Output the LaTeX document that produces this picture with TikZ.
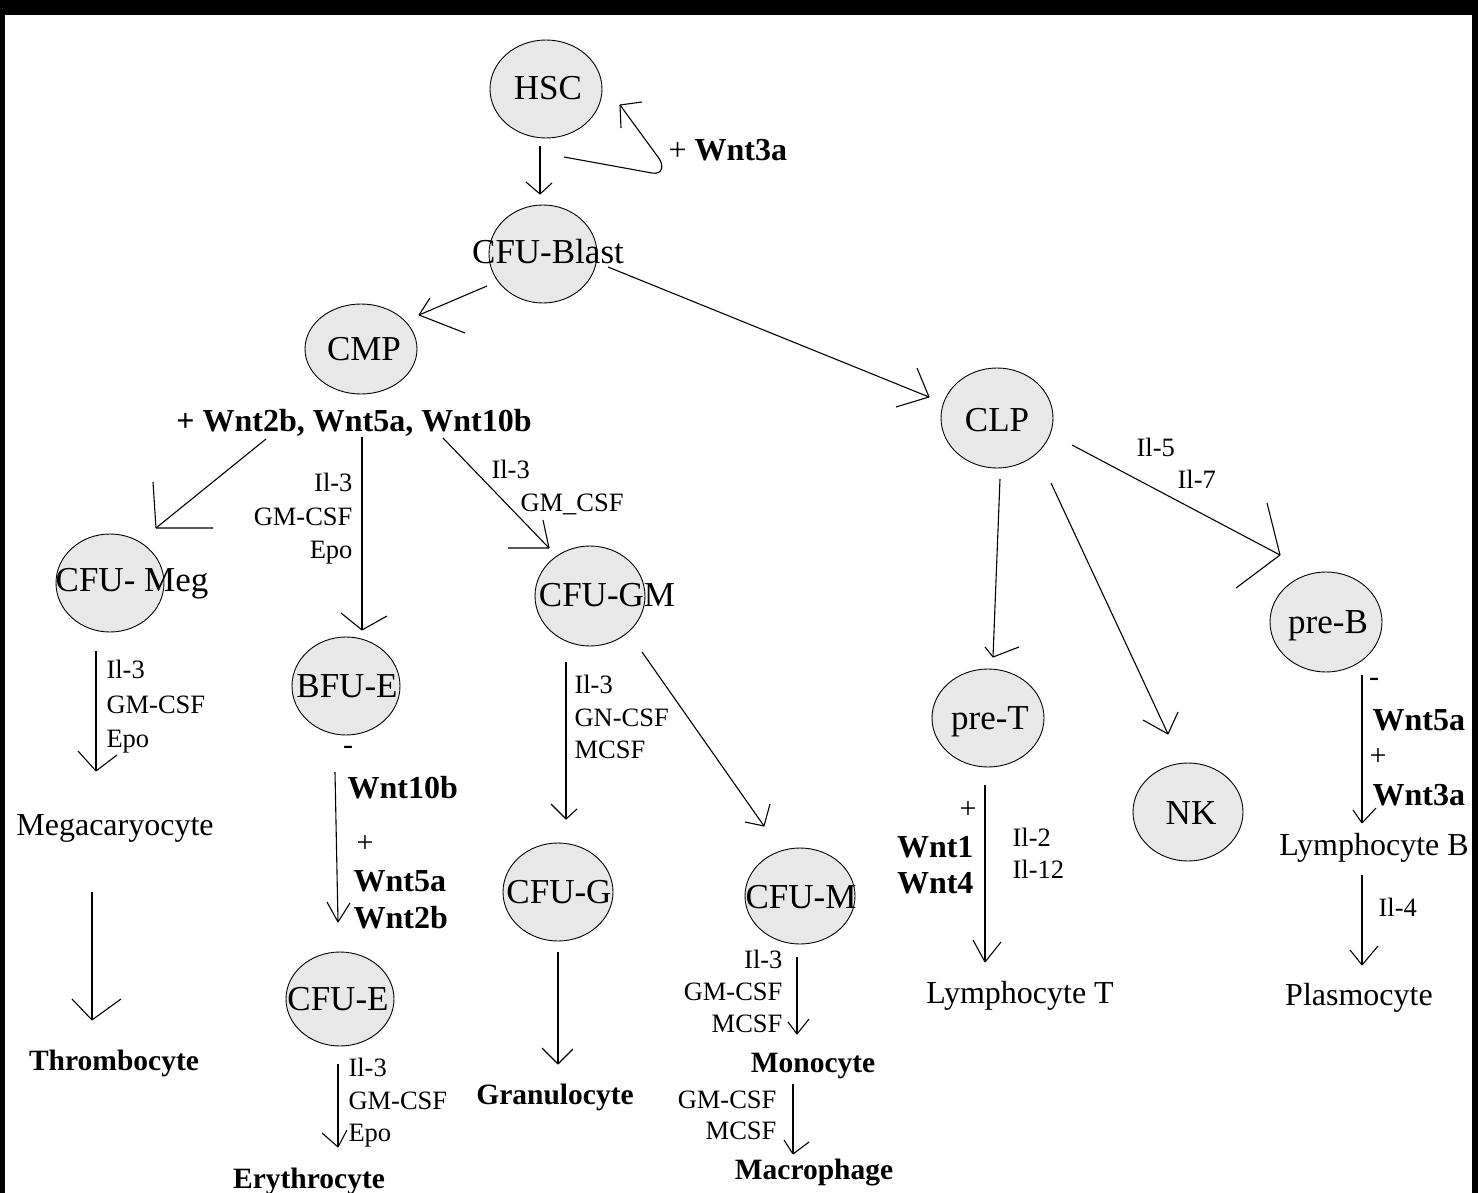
\documentclass[tikz,border=0pt]{standalone}
\usepackage{fontspec}
\setmainfont{Liberation Serif}
\usetikzlibrary{shapes.geometric}
\definecolor{cellgray}{RGB}{232,232,232}

% stack of growth factors: name, anchor, x, first y, line step, list
\newcommand{\factors}[6]{%
    \foreach \f [count=\i] in {#6}
        \node[factor, anchor=#2] (#1\i) at (#3, #4+#5*\i-#5) {\f};%
}

\begin{document}
\begin{tikzpicture}[x=1pt, y=-1pt, line width=1.1pt,
    cell/.style={ellipse, draw, line width=0.9pt, fill=cellgray, inner sep=0pt},
    celltext/.style={font=\fontsize{35}{40}\selectfont, text height=23pt, text depth=0pt, inner sep=0pt},
    endcell/.style={font=\fontsize{32}{38}\selectfont, text height=21pt, text depth=0pt, inner sep=0pt},
    endbold/.style={font=\bfseries\fontsize{29.5}{36}\selectfont, text height=19.5pt, text depth=0pt, inner sep=0pt},
    factor/.style={font=\fontsize{26.5}{30}\selectfont, text height=17.5pt, text depth=0pt, inner sep=0pt},
    wnt/.style={font=\bfseries\fontsize{32}{38}\selectfont, text height=21pt, text depth=0pt, inner sep=0pt},
    sign/.style={font=\fontsize{30}{36}\selectfont, inner sep=0pt}]

    \fill[white] (0,0) rectangle (1478,1193);
    \useasboundingbox (0,0) rectangle (1478,1193);

    % cells
    \foreach \n/\x/\y/\w/\h in {hsc/546/89/112/98, blast/543/254/108/98, cmp/361/349/112/90,
        clp/997/418/112/100, meg/110/583/108/98, bfue/346/686/108/98, cfugm/590/596/110/100,
        cfug/558/892/110/98, cfum/800/896/110/96, cfue/340/999/108/94,
        pret/988/718/112/98, nk/1188/812/110/98, preb/1326/622/112/100}
        \node[cell, minimum width=\w pt, minimum height=\h pt] (\n) at (\x,\y) {};

    \foreach \n/\x/\y/\t in {hsc/548/88/HSC, blast/548/252/CFU-Blast, cmp/364/349/CMP,
        clp/997/420/CLP, meg/132/580/CFU- Meg, bfue/347/686/BFU-E, cfugm/607/595/CFU-GM,
        cfug/559/892/CFU-G, cfum/801/897/CFU-M, cfue/338/999/CFU-E,
        pret/990/718/pre-T, nk/1191/813/NK, preb/1328/622/pre-B}
        \node[celltext] (\n-txt) at (\x,\y) {\t};

    % mature cells
    \node[endcell] (mgk) at (115,825) {Megacaryocyte};
    \node[endbold] (thr) at (114,1061) {Thrombocyte};
    \node[endbold] (ery) at (309,1179) {Erythrocyte};
    \node[endbold] (gra) at (555,1095) {Granulocyte};
    \node[endbold] (mono) at (813,1063) {Monocyte};
    \node[endbold] (mac) at (814,1170) {Macrophage};
    \node[endcell] (lymt) at (1020,993) {Lymphocyte T};
    \node[endcell] (lymb) at (1374,845) {Lymphocyte B};
    \node[endcell] (pla) at (1359,995) {Plasmocyte};

    % arrows: start, tip, two barbs
    \foreach \n/\sx/\sy/\tx/\ty/\l/\r in {
        hsc-blast/540/146/540/194/{-14,-12}/{12,-11},
        blast-cmp/487/286/419/315/{11,-17}/{46,18},
        blast-clp/608/267/929/397/{-12,-29}/{-33,10},
        cmp-meg/266/439/156/528/{-3,-46}/{57,0},
        cmp-bfue/362/437/362/630/{-21,-17}/{25,-14},
        cmp-cfugm/443/438/549/548/{-6,-28}/{-41,0},
        meg-mgk/96/651/96/771/{-18,-20}/{21,-16},
        mgk-thr/92/892/92/1020/{-20,-21}/{29,-21},
        bfue-cfue/335/772/338/922/{-11,-20}/{12,-19},
        cfue-ery/338/1064/338/1147/{-16,-14}/{9,-17},
        cfugm-cfug/566/662/566/819/{-15,-15}/{11,-10},
        cfugm-cfum/642/652/764/826/{-19,-4}/{6,-22},
        cfug-gra/558/952/558/1064/{-16,-16}/{15,-15},
        cfum-mono/797/957/797/1034/{-9,-12}/{12,-15},
        mono-mac/793/1084/793/1154/{-9,-14}/{16,-12},
        clp-pret/1000/479/993/657/{-8,-10}/{26,-10},
        clp-nk/1051/483/1168/734/{-25,-14}/{10,-22},
        clp-preb/1072/445/1280/555/{-13,-52}/{-44,33},
        pret-lymt/985/785/985/962/{-12,-22}/{16,-20},
        preb-lymb/1362/675/1362/823/{-9,-13}/{14,-15},
        lymb-pla/1362/875/1362/965/{-12,-15}/{16,-19}}{
        \coordinate (\n-s) at (\sx,\sy);
        \coordinate (\n-t) at (\tx,\ty);
        \draw (\n-s) -- (\n-t);
        \draw (\n-t) -- ++(\l) (\n-t) -- ++(\r);
    }

    % self renewal loop
    \coordinate (loop-s) at (564,157);
    \coordinate (loop-t) at (620,105);
    \draw (loop-s) -- (652,173) .. controls (662,175) and (665,166) .. (658,157) -- (loop-t);
    \draw (loop-t) -- ++(22,-3) (loop-t) -- ++(1,23);
    \node[wnt, anchor=west] (hsc-w) at (668,150) {{\mdseries +} Wnt3a};

    % growth factors
    \node[wnt] (cmp-w) at (354,421) {+ Wnt2b, Wnt5a, Wnt10b};
    \factors{bfue-f}{east}{353}{483}{33.5}{Il-3, GM-CSF, Epo}
    \node[factor, anchor=west] (cfugm-f1) at (491,470) {Il-3};
    \node[factor, anchor=west] (cfugm-f2) at (520,503) {GM\_CSF};
    \factors{mgk-f}{west}{106}{670}{34.5}{Il-3, GM-CSF, Epo}
    \factors{ery-f}{west}{348}{1068}{32.5}{Il-3, GM-CSF, Epo}
    \factors{cfug-f}{west}{574}{685}{32.5}{Il-3, GN-CSF, MCSF}
    \factors{mono-f}{east}{783}{960}{32}{Il-3, GM-CSF, MCSF}
    \factors{mac-f}{east}{777}{1100}{31}{GM-CSF, MCSF}
    \factors{lymt-f}{west}{1012}{838}{32}{Il-2, Il-12}
    \node[factor, anchor=west] (preb-f1) at (1136,448) {Il-5};
    \node[factor, anchor=west] (preb-f2) at (1177,480) {Il-7};
    \node[factor, anchor=west] (pla-f1) at (1378,908) {Il-4};

    % Wnt signals
    \node[sign] (bfue-m) at (348,750) {-};
    \node[wnt, anchor=west] (bfue-w1) at (347,788) {Wnt10b};
    \node[sign] (bfue-p) at (365,844) {+};
    \node[wnt, anchor=west] (bfue-w2) at (353,881) {Wnt5a};
    \node[wnt, anchor=west] (bfue-w3) at (353,918) {Wnt2b};

    \node[sign] (pret-p) at (968,810) {+};
    \node[wnt, anchor=east] (pret-w1) at (974,847) {Wnt1};
    \node[wnt, anchor=east] (pret-w2) at (974,883) {Wnt4};

    \node[sign] (preb-m) at (1374,682) {-};
    \node[wnt, anchor=west] (preb-w1) at (1372,720) {Wnt5a};
    \node[sign] (preb-p) at (1378,757) {+};
    \node[wnt, anchor=west] (preb-w2) at (1372,795) {Wnt3a};

    % frame
    \fill[black] (0,0) rectangle (1478,15);
    \fill[black] (0,0) rectangle (5,1193);
    \fill[black] (1472,0) rectangle (1478,1193);
\end{tikzpicture}
\end{document}
